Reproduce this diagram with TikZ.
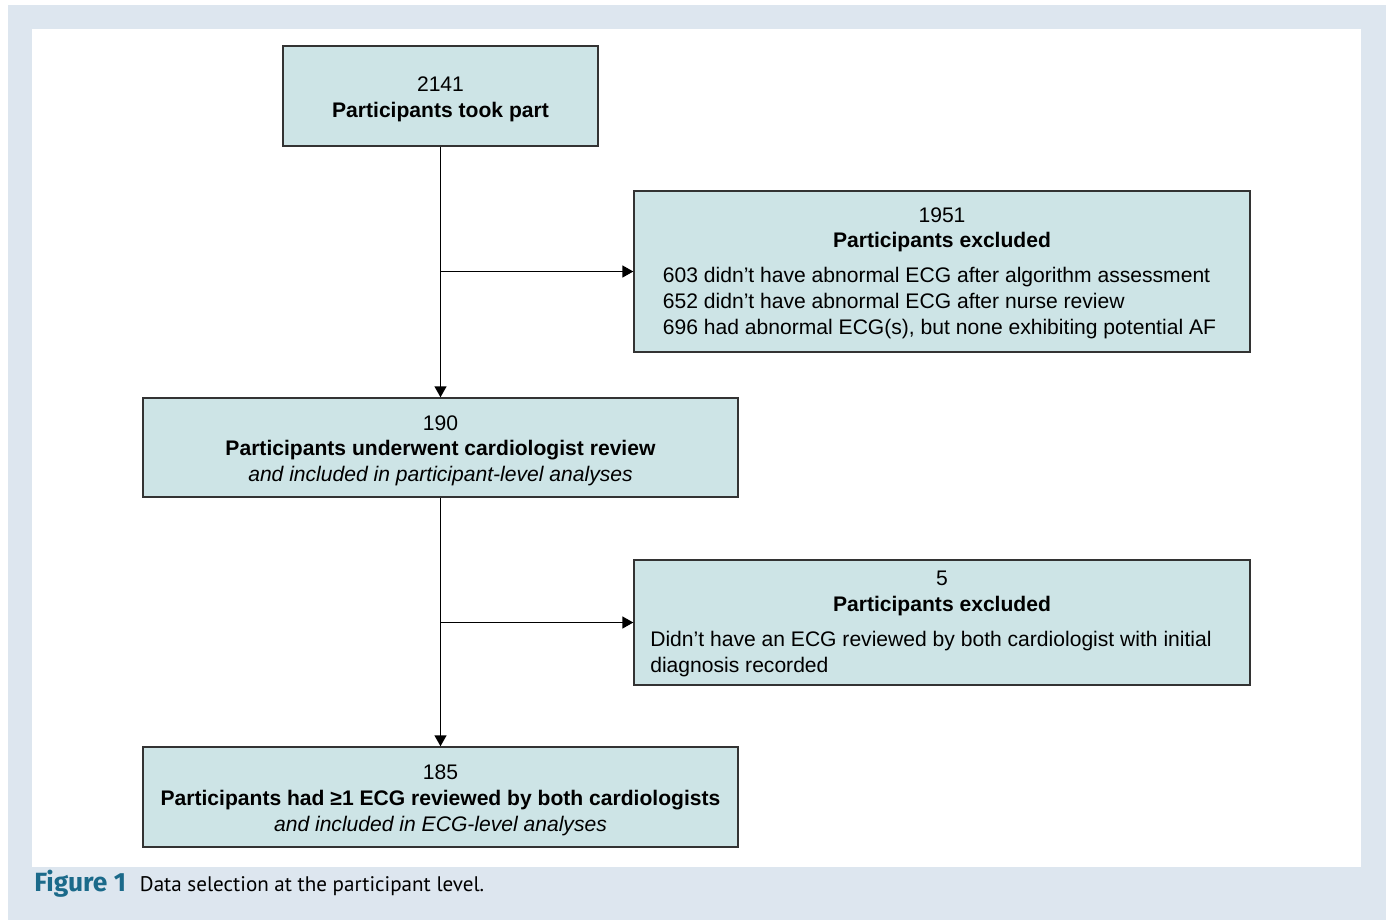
\documentclass[tikz,border=0pt]{standalone}
\usepackage{fontspec}
\setmainfont{Liberation Sans}
\newfontfamily\capfont{PT Sans}
\newfontfamily\figfont{Fira Sans}
\usetikzlibrary{arrows.meta}
\definecolor{framebg}{HTML}{DDE6EF}
\definecolor{boxfill}{HTML}{CDE4E6}
\definecolor{figteal}{HTML}{1B6A8A}
\newcommand{\topstrut}{\rule{0pt}{12pt}}
\tikzset{
  flowbox/.style={draw=black!80,line width=0.03cm,fill=boxfill,align=center,
    inner sep=0pt,font=\fontsize{12}{14.7}\selectfont},
  flowarrow/.style={line width=0.03cm,-{Triangle[length=0.22cm,width=0.24cm]}}
}

\begin{document}
\begin{tikzpicture}[x=0.02cm,y=-0.02cm]
         \useasboundingbox (0,0) rectangle (1386,920) ;
         %\draw[very thin,gray,step=50] (0,0) grid (1386,920) ;
         \fill[framebg] (8,5) rectangle (1386,920) ;
         \fill[white] (32,29) rectangle (1361,867) ;
         \node[flowbox,minimum width=6.3cm,minimum height=2cm] (took) at (440.5,96)
         {\topstrut 2141\\ \textbf{Participants took part}} ;
         \node[flowbox,minimum width=12.32cm,minimum height=3.22cm] (excla) at (942,271.5)
         {\topstrut 1951\\ \textbf{Participants excluded}\\[0.18cm]
          \begin{tabular}[t]{@{}l@{}}
          603 didn’t have abnormal ECG after algorithm assessment\\
          652 didn’t have abnormal ECG after nurse review\\
          696 had abnormal ECG(s), but none exhibiting potential AF
          \end{tabular}\hspace*{0.1cm}} ;
         \node[flowbox,minimum width=11.9cm,minimum height=1.98cm] (review) at (440.5,447.5)
         {\topstrut 190\\ \textbf{Participants underwent cardiologist review}\\
          \textit{and included in participant-level analyses}} ;
         \node[flowbox,minimum width=12.32cm,minimum height=2.5cm] (exclb) at (942,622.5)
         {\topstrut 5\\ \textbf{Participants excluded}\\[0.18cm]
          \begin{tabular}[t]{@{}l@{}}
          Didn’t have an ECG reviewed by both cardiologist with initial\\
          diagnosis recorded
          \end{tabular}\hspace*{0.44cm}} ;
         \node[flowbox,minimum width=11.9cm,minimum height=2cm] (ecglevel) at (440.5,797)
         {\topstrut 185\\ \textbf{Participants had ≥1 ECG reviewed by both cardiologists}\\
          \textit{and included in ECG-level analyses}} ;
         % connectors
         \coordinate (splita) at (took.south |- excla.west) ;
         \coordinate (splitb) at (review.south |- exclb.west) ;
         \draw[flowarrow] (took.south) -- (review.north) ;
         \draw[flowarrow] (splita) -- (excla.west) ;
         \draw[flowarrow] (review.south) -- (ecglevel.north) ;
         \draw[flowarrow] (splitb) -- (exclb.west) ;
         % caption
         \node[anchor=base west,inner sep=0pt,font=\capfont\fontsize{12}{15}\selectfont] (caption) at (34,891)
         {\textcolor{figteal}{\figfont\fontsize{15}{16}\selectfont\bfseries Figure 1}\hspace{0.28cm}Data selection at the participant level.} ;
      \end{tikzpicture}
\end{document}
